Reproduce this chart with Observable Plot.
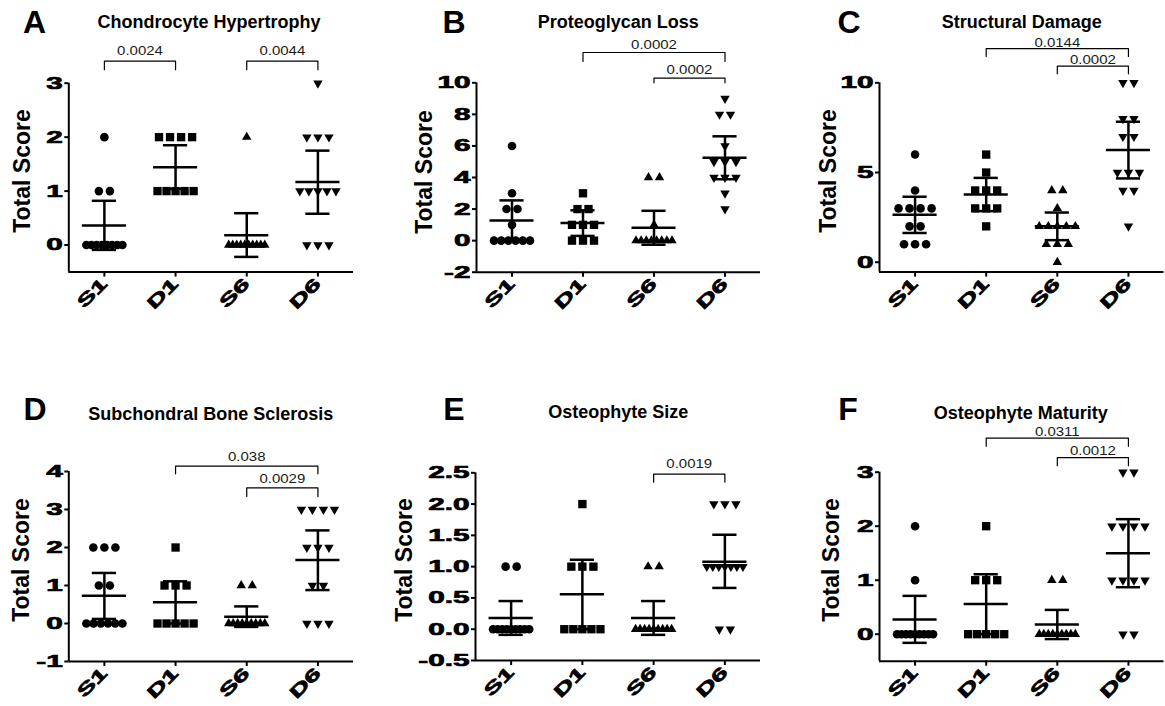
<!DOCTYPE html>
<html><head><meta charset="utf-8">
<script src="https://cdn.jsdelivr.net/npm/d3@7"></script>
<script src="https://cdn.jsdelivr.net/npm/@observablehq/plot@0.6"></script>
<style>
html,body{margin:0;padding:0;background:#fff;}
#fig{position:relative;width:1165px;height:706px;overflow:hidden;font-family:"Liberation Sans",Arial,sans-serif;background:#fff;}
.lbl{position:absolute;line-height:1;white-space:nowrap;color:#000;font-weight:bold;font-family:"Liberation Sans",Arial,sans-serif;}
</style></head><body><div id="fig"></div>
<script>
const groups = ["S1","D1","S6","D6"];

// A: Chondrocyte Hypertrophy
const hypertrophyScores = [
  [2,1,1,0,0,0,0,0,0,0,0],
  [2,2,2,2,1,1,1,1,1],
  [2,0,0,0,0,0,0,0,0,0,0],
  [3,2,2,2,1,1,1,1,1,0,0,0]];
const hypertrophyMean = [0.36,1.44,0.18,1.17];
const hypertrophyLow  = [-0.09,1.04,-0.22,0.58];
const hypertrophyHigh = [0.82,1.85,0.59,1.75];
const hypertrophyPairs = [[0,1],[2,3]];
const hypertrophyP = ["0.0024","0.0044"];
const hypertrophyBracketY = [[3.41,3.25],[3.41,3.25]];
const hypertrophyTicks = [0,1,2,3];

// B: Proteoglycan Loss
const proteoglycanScores = [
  [6,3,2,2,1,0,0,0,0,0,0],
  [3,2,2,1,1,1,0,0,0],
  [4,4,1,0,0,0,0,0,0,0,0],
  [9,8,8,6,5,5,5,4,4,4,3,2]];
const proteoglycanMean = [1.27,1.11,0.82,5.25];
const proteoglycanLow  = [-0.01,0.30,-0.26,3.89];
const proteoglycanHigh = [2.55,1.92,1.89,6.61];
const proteoglycanPairs = [[1,3],[2,3]];
const proteoglycanP = ["0.0002","0.0002"];
const proteoglycanBracketY = [[11.92,11.35],[10.3,10.0]];
const proteoglycanTicks = [-2,0,2,4,6,8,10];

// C: Structural Damage
const damageScores = [
  [6,4,3,3,3,3,2,2,1,1,1],
  [6,5,4,4,4,3,3,3,2],
  [4,4,3,2,2,2,2,2,1,1,1,0],
  [10,10,8,8,7,7,5,5,5,4,4,2]];
const damageMean = [2.64,3.78,2.00,6.25];
const damageLow  = [1.63,2.85,1.23,4.67];
const damageHigh = [3.65,4.70,2.77,7.83];
const damagePairs = [[1,3],[2,3]];
const damageP = ["0.0144","0.0002"];
const damageBracketY = [[11.9,11.47],[10.93,10.5]];
const damageTicks = [0,5,10];

// D: Subchondral Bone Sclerosis
const sclerosisScores = [
  [2,2,2,1,1,0,0,0,0,0,0],
  [2,1,1,1,0,0,0,0,0],
  [1,1,0,0,0,0,0,0,0,0,0],
  [3,3,3,3,2,2,2,1,1,0,0,0]];
const sclerosisMean = [0.73,0.56,0.18,1.67];
const sclerosisLow  = [0.12,0.00,-0.09,0.88];
const sclerosisHigh = [1.33,1.11,0.45,2.45];
const sclerosisPairs = [[1,3],[2,3]];
const sclerosisP = ["0.038","0.0029"];
const sclerosisBracketY = [[4.14,3.94],[3.57,3.34]];
const sclerosisTicks = [-1,0,1,2,3,4];

// E: Osteophyte Size
const sizeScores = [
  [1,1,0,0,0,0,0,0,0,0,0],
  [2,1,1,1,0,0,0,0,0],
  [1,1,0,0,0,0,0,0,0,0,0],
  [2,2,2,1,1,1,1,1,1,1,0,0]];
const sizeMean = [0.18,0.56,0.18,1.08];
const sizeLow  = [-0.09,0.00,-0.09,0.66];
const sizeHigh = [0.45,1.11,0.45,1.51];
const sizePairs = [[2,3]];
const sizeP = ["0.0019"];
const sizeBracketY = [[2.48,2.35]];
const sizeTicks = [-0.5,0,0.5,1,1.5,2,2.5];

// F: Osteophyte Maturity
const maturityScores = [
  [2,1,0,0,0,0,0,0,0,0,0],
  [2,1,1,1,0,0,0,0,0],
  [1,1,0,0,0,0,0,0,0,0,0],
  [3,3,2,2,2,2,1,1,1,1,0,0]];
const maturityMean = [0.27,0.56,0.18,1.50];
const maturityLow  = [-0.16,0.00,-0.09,0.87];
const maturityHigh = [0.71,1.11,0.45,2.13];
const maturityPairs = [[1,3],[2,3]];
const maturityP = ["0.0311","0.0012"];
const maturityBracketY = [[3.63,3.48],[3.27,3.12]];
const maturityTicks = [0,1,2,3];

const panels = [
  {letter:"A", title:"Chondrocyte Hypertrophy", scores:hypertrophyScores, mean:hypertrophyMean, low:hypertrophyLow, high:hypertrophyHigh, pairs:hypertrophyPairs, p:hypertrophyP, by:hypertrophyBracketY, ticks:hypertrophyTicks, dom:[-0.5,3], fmt:d=>String(d),
   box:[0,0,388,353], m:[68.3,35,82.7,81.5], let:[34.5,33.3], tit:[209,28.3], yl:[22,170.7], pdy:10},
  {letter:"B", title:"Proteoglycan Loss", scores:proteoglycanScores, mean:proteoglycanMean, low:proteoglycanLow, high:proteoglycanHigh, pairs:proteoglycanPairs, p:proteoglycanP, by:proteoglycanBracketY, ticks:proteoglycanTicks, dom:[-2,10], fmt:d=>String(d),
   box:[388,0,388,353], m:[88,16,82.3,81.3], let:[454,33.3], tit:[618.3,28.3], yl:[424,171.7], pdy:7.5},
  {letter:"C", title:"Structural Damage", scores:damageScores, mean:damageMean, low:damageLow, high:damageHigh, pairs:damagePairs, p:damageP, by:damageBracketY, ticks:damageTicks, dom:[-0.55,10], fmt:d=>String(d),
   box:[776,0,389,353], m:[103,1.5,82.3,81.4], let:[849,33.3], tit:[1021.7,28.5], yl:[827.5,171], pdy:6},
  {letter:"D", title:"Subchondral Bone Sclerosis", scores:sclerosisScores, mean:sclerosisMean, low:sclerosisLow, high:sclerosisHigh, pairs:sclerosisPairs, p:sclerosisP, by:sclerosisBracketY, ticks:sclerosisTicks, dom:[-1,4], fmt:d=>String(d),
   box:[0,353,388,353], m:[68.3,35,118,45], let:[35,420], tit:[210.8,420], yl:[21,560], pdy:9},
  {letter:"E", title:"Osteophyte Size", scores:sizeScores, mean:sizeMean, low:sizeLow, high:sizeHigh, pairs:sizePairs, p:sizeP, by:sizeBracketY, ticks:sizeTicks, dom:[-0.5,2.5], fmt:d=>d.toFixed(1),
   box:[388,353,388,353], m:[87,16,119.3,46], let:[454,420], tit:[618.3,418.3], yl:[404,560], pdy:10},
  {letter:"F", title:"Osteophyte Maturity", scores:maturityScores, mean:maturityMean, low:maturityLow, high:maturityHigh, pairs:maturityPairs, p:maturityP, by:maturityBracketY, ticks:maturityTicks, dom:[-0.5,3], fmt:d=>String(d),
   box:[776,353,389,353], m:[103,1.5,118.7,45.3], let:[848,420], tit:[1020.8,419.3], yl:[831,560], pdy:6.3}
];

const SYMBOL = {S1:"circle", D1:"square", S6:"triangle", D6:"triangle"};
const RADIUS = {S1:4.3, D1:4.7, S6:3.5, D6:3.5};
const ROTATE = {S1:0, D1:0, S6:0, D6:180};
const STEP_MAX = 0.155, SPAN_MAX = 0.507;

function layoutPoints(scores){
  const out = [];
  scores.forEach((vals, gi) => {
    for (const [v, arr] of d3.group(vals, d => d)) {
      const k = arr.length;
      const step = k > 1 ? Math.min(STEP_MAX, SPAN_MAX/(k-1)) : 0;
      arr.forEach((_, j) => out.push({g: groups[gi], gi, v, x: gi + (j-(k-1)/2)*step}));
    }
  });
  return out;
}

const fig = document.getElementById("fig");
const FONT = "Liberation Sans, Arial, sans-serif";

function addLabel(text, size, cx, baseline, rotate){
  const d = document.createElement("div");
  d.className = "lbl";
  d.textContent = text;
  d.style.fontSize = size + "px";
  if (rotate) {
    d.style.left = cx + "px"; d.style.top = baseline + "px";
    d.style.transform = "translate(-50%,-50%) rotate(-90deg)";
  } else {
    d.style.left = cx + "px";
    d.style.top = (baseline - 0.8465*size) + "px";
    d.style.transform = "translateX(-50%)";
  }
  fig.appendChild(d);
}

function stretch(sel, sx){
  sel.each(function(){
    const t = this.getAttribute("transform") || "";
    this.setAttribute("transform", t + ` scale(${sx},1)`);
  });
}

for (const P of panels) {
  const pts = layoutPoints(P.scores);
  const stats = groups.map((g, i) => ({i, mean: P.mean[i], lo: P.low[i], hi: P.high[i]}));
  const brPts = [];
  P.pairs.forEach(([a, b], k) => {
    const [top, drop] = P.by[k];
    brPts.push({k, x: a, y: drop}, {k, x: a, y: top}, {k, x: b, y: top}, {k, x: b, y: drop});
  });
  const brText = P.pairs.map(([a, b], k) => ({x: (a+b)/2, y: P.by[k][0], t: P.p[k]}));
  const marks = [];
  for (const g of groups) {
    marks.push(Plot.dot(pts.filter(d => d.g === g), {x: "x", y: "v", symbol: SYMBOL[g], r: RADIUS[g], rotate: ROTATE[g], fill: "black", stroke: "none"}));
  }
  marks.push(
    Plot.ruleX(stats, {x: "i", y1: "lo", y2: "hi", stroke: "black", strokeWidth: 2.5}),
    Plot.ruleY(stats, {y: "mean", x1: d => d.i - 0.31, x2: d => d.i + 0.31, stroke: "black", strokeWidth: 2.5}),
    Plot.ruleY(stats, {y: "hi", x1: d => d.i - 0.17, x2: d => d.i + 0.17, stroke: "black", strokeWidth: 2.5}),
    Plot.ruleY(stats, {y: "lo", x1: d => d.i - 0.17, x2: d => d.i + 0.17, stroke: "black", strokeWidth: 2.5}),
    Plot.line(brPts, {x: "x", y: "y", z: "k", stroke: "black", strokeWidth: 1.2}),
    Plot.text(brText, {x: "x", y: "y", text: "t", dy: -P.pdy, lineAnchor: "middle", fontSize: 12, fill: "#1a1a1a"}),
    Plot.ruleX([-0.5], {stroke: "black", strokeWidth: 2}),
    Plot.ruleY([P.dom[0]], {stroke: "black", strokeWidth: 2}),
    Plot.axisY({ticks: P.ticks, tickFormat: P.fmt, tickSize: 4, tickPadding: 2, fontSize: 17, fontWeight: "bold", label: null}),
    Plot.axisX({ticks: [0,1,2,3], tickFormat: i => groups[i], tickRotate: -45, tickSize: 5, tickPadding: 4, fontSize: 17, fontWeight: "bold", label: null})
  );
  const [left, top, w, h] = P.box;
  const svg = Plot.plot({
    width: w, height: h,
    marginLeft: P.m[0], marginRight: P.m[1], marginTop: P.m[2], marginBottom: P.m[3],
    x: {domain: [-0.5, 3.5]},
    y: {domain: P.dom},
    style: {fontFamily: FONT, background: "transparent", overflow: "visible", color: "black"},
    marks
  });
  svg.style.position = "absolute";
  svg.style.left = left + "px";
  svg.style.top = top + "px";
  svg.style.maxWidth = "none";
  const s = d3.select(svg);
  const yl = s.selectAll('g[aria-label="y-axis tick label"] text');
  stretch(yl, 1.75);
  yl.attr("font-weight", "bold").attr("font-size", 17).attr("stroke", "black").attr("stroke-width", 0.7);
  const xl = s.selectAll('g[aria-label="x-axis tick label"] text');
  stretch(xl, 1.65);
  xl.attr("font-weight", "bold").attr("font-size", 17).attr("stroke", "black").attr("stroke-width", 0.7);
  stretch(s.selectAll('g[aria-label="text"] text'), 1.25);
  s.selectAll('g[aria-label="y-axis tick"] path, g[aria-label="x-axis tick"] path').attr("stroke-width", 2).attr("stroke", "black");
  fig.appendChild(svg);

  addLabel(P.letter, 32, P.let[0], P.let[1], false);
  addLabel(P.title, 18, P.tit[0], P.tit[1], false);
  addLabel("Total Score", 23, P.yl[0], P.yl[1], true);
}
</script>
</body></html>
